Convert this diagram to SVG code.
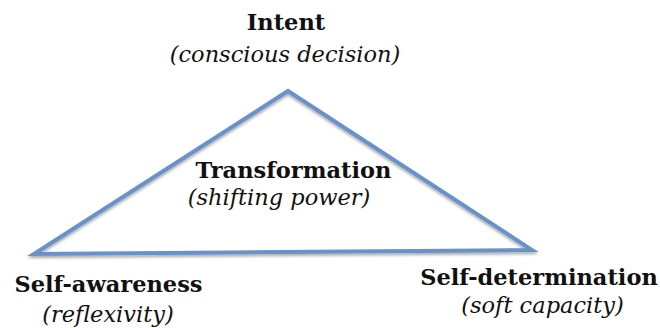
<svg xmlns="http://www.w3.org/2000/svg" width="660" height="328" viewBox="0 0 660 328">
  <style>
    .title { font-family: "DejaVu Serif", "Liberation Serif", serif; font-weight: bold; font-size: 22.5px; fill: #111; text-anchor: middle; }
    .sub { font-family: "DejaVu Serif", "Liberation Serif", serif; font-style: italic; font-size: 22.5px; fill: #111; text-anchor: middle; }
    .edge { fill: none; stroke: #6792c8; stroke-width: 4; stroke-linejoin: miter; }
  </style>
  <defs>
    <filter id="shadow" x="-10%" y="-10%" width="120%" height="130%">
      <feGaussianBlur in="SourceAlpha" stdDeviation="1.5"/>
      <feOffset dx="0" dy="2" result="b"/>
      <feComponentTransfer><feFuncA type="linear" slope="0.35"/></feComponentTransfer>
      <feMerge><feMergeNode/><feMergeNode in="SourceGraphic"/></feMerge>
    </filter>
  </defs>
  <rect width="660" height="328" fill="#ffffff"/>

  <!-- triangle outline -->
  <g id="connectors">
    <polygon class="edge" filter="url(#shadow)" points="288,91 532,250 34,254"/>
  </g>

  <g id="intent">
    <text class="title" x="286" y="30">Intent</text>
    <text class="sub" x="285" y="62">(conscious decision)</text>
  </g>
  <g id="transformation">
    <text class="title" x="293.5" y="178">Transformation</text>
    <text class="sub" x="279" y="205">(shifting power)</text>
  </g>
  <g id="self-awareness">
    <text class="title" x="108.5" y="292">Self-awareness</text>
    <text class="sub" x="108" y="322">(reflexivity)</text>
  </g>
  <g id="self-determination">
    <text class="title" x="539" y="285">Self-determination</text>
    <text class="sub" x="542.5" y="313">(soft capacity)</text>
  </g>
</svg>
